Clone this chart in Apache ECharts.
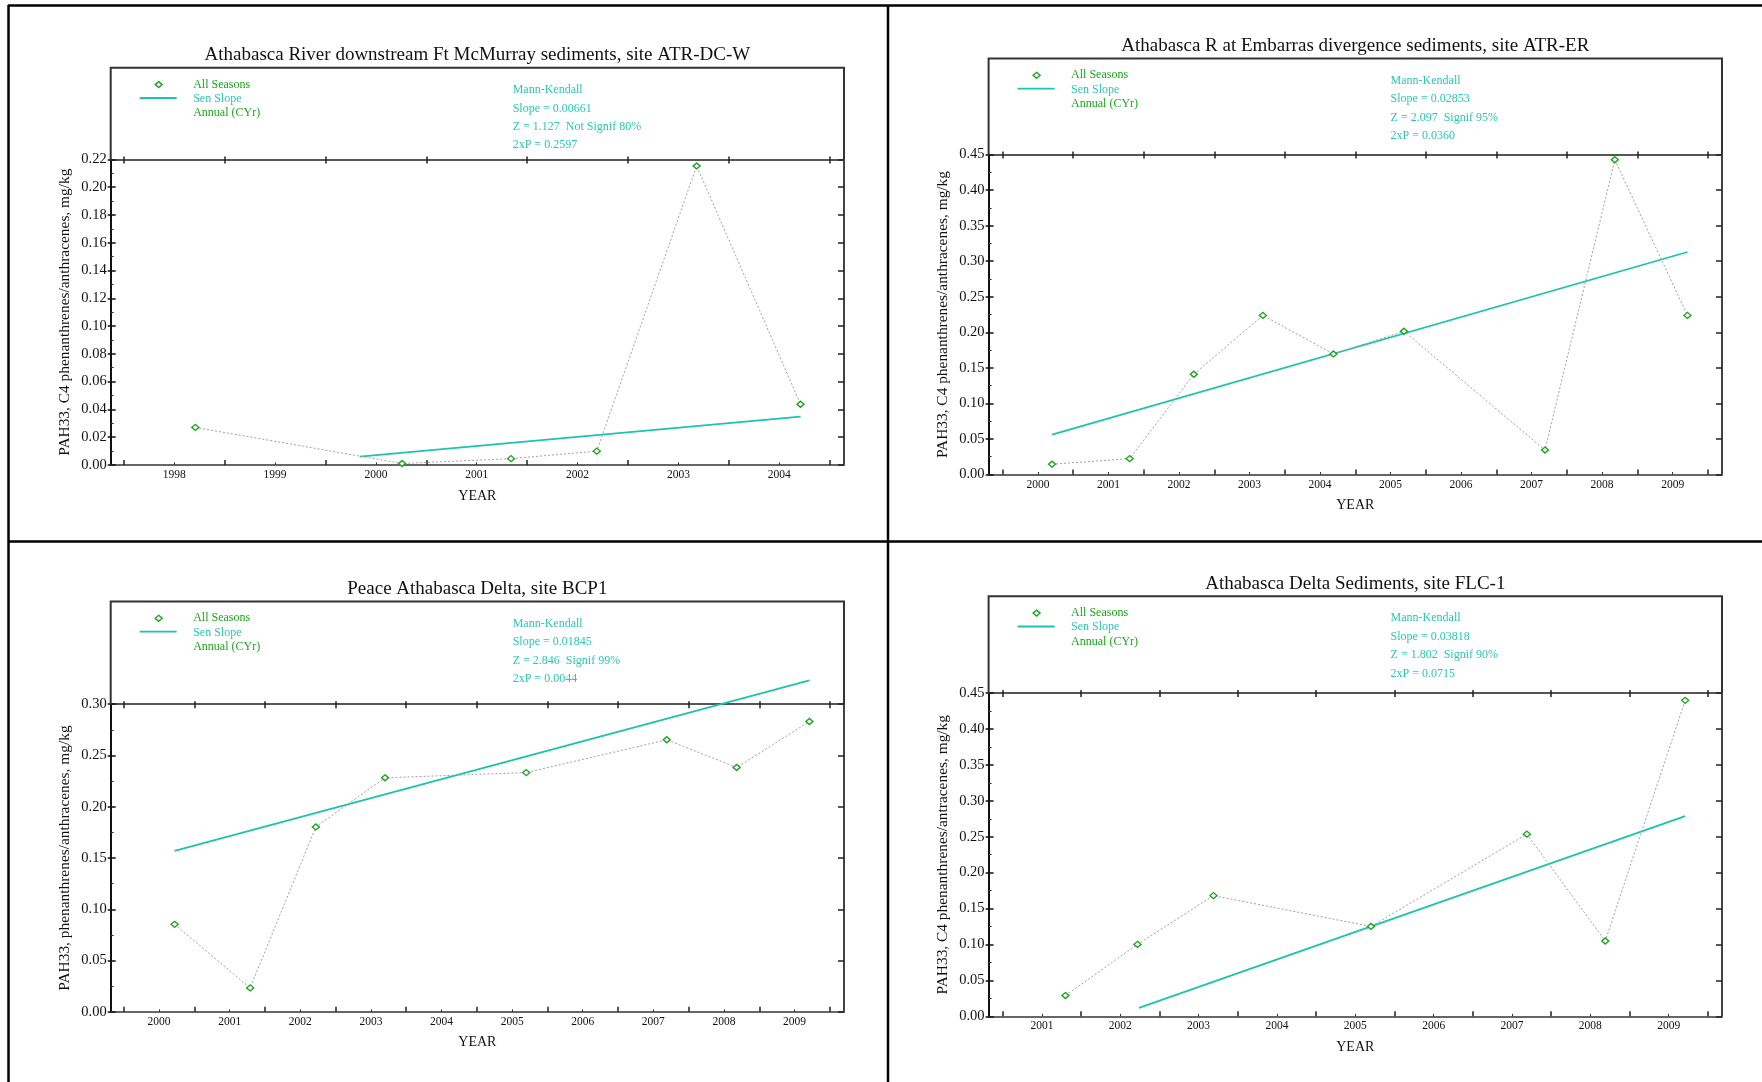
<!DOCTYPE html>
<html><head><meta charset="utf-8">
<script src="https://cdn.jsdelivr.net/npm/echarts@6/dist/echarts.min.js"></script>
<style>html,body{margin:0;padding:0;background:#fff}#c{width:1762px;height:1082px}</style>
</head><body><div id="c"></div>
<script>
// ---------------- data ----------------
const titles = [
  'Athabasca River downstream Ft McMurray sediments, site ATR-DC-W',
  'Athabasca R at Embarras divergence sediments, site ATR-ER',
  'Peace Athabasca Delta, site BCP1',
  'Athabasca Delta Sediments, site FLC-1'
];
const yAxisNames = [
  'PAH33, C4 phenanthrenes/anthracenes, mg/kg',
  'PAH33, C4 phenanthrenes/anthracenes, mg/kg',
  'PAH33, phenanthrenes/anthracenes, mg/kg',
  'PAH33, C4 phenanthrenes/antracenes, mg/kg'
];
const xAxisName = 'YEAR';
const legendLabels = ['All Seasons', 'Sen Slope', 'Annual (CYr)'];
const mkStats1 = ['Mann-Kendall', 'Slope = 0.00661', 'Z = 1.127  Not Signif 80%', '2xP = 0.2597'];
const mkStats2 = ['Mann-Kendall', 'Slope = 0.02853', 'Z = 2.097  Signif 95%', '2xP = 0.0360'];
const mkStats3 = ['Mann-Kendall', 'Slope = 0.01845', 'Z = 2.846  Signif 99%', '2xP = 0.0044'];
const mkStats4 = ['Mann-Kendall', 'Slope = 0.03818', 'Z = 1.802  Signif 90%', '2xP = 0.0715'];

// panel 1: ATR-DC-W
const dates1 = [1998.71, 2000.76, 2001.84, 2002.69, 2003.68, 2004.71];
const pah1   = [0.0270, 0.0010, 0.0045, 0.0099, 0.2153, 0.0437];
const senX1  = [2000.34, 2004.71];
const senY1  = [0.0060, 0.0347];
const yearTicks1  = [1998, 1999, 2000, 2001, 2002, 2003, 2004, 2005];
const yearLabels1 = [1998, 1999, 2000, 2001, 2002, 2003, 2004];
const yTicks1 = [0.00, 0.02, 0.04, 0.06, 0.08, 0.10, 0.12, 0.14, 0.16, 0.18, 0.20, 0.22];
const yMinor1 = [0.01, 0.03, 0.05, 0.07, 0.09, 0.11, 0.13, 0.15, 0.17, 0.19, 0.21];

// panel 2: ATR-ER
const dates2 = [2000.70, 2001.80, 2002.71, 2003.69, 2004.69, 2005.69, 2007.69, 2008.68, 2009.71];
const pah2   = [0.0145, 0.0223, 0.1410, 0.2238, 0.1696, 0.2015, 0.0344, 0.4428, 0.2238];
const senX2  = [2000.70, 2009.71];
const senY2  = [0.0562, 0.3130];
const yearTicks2  = [2000, 2001, 2002, 2003, 2004, 2005, 2006, 2007, 2008, 2009, 2010];
const yearLabels2 = [2000, 2001, 2002, 2003, 2004, 2005, 2006, 2007, 2008, 2009];
const yTicks2 = [0.00, 0.05, 0.10, 0.15, 0.20, 0.25, 0.30, 0.35, 0.40, 0.45];
const yMinor2 = [0.025, 0.075, 0.125, 0.175, 0.225, 0.275, 0.325, 0.375, 0.425];

// panel 3: BCP1
const dates3 = [2000.72, 2001.79, 2002.72, 2003.70, 2005.70, 2007.69, 2008.68, 2009.71];
const pah3   = [0.0853, 0.0233, 0.1803, 0.2282, 0.2333, 0.2653, 0.2383, 0.2831];
const senX3  = [2000.72, 2009.71];
const senY3  = [0.1570, 0.3233];
const yearTicks3  = [2000, 2001, 2002, 2003, 2004, 2005, 2006, 2007, 2008, 2009, 2010];
const yearLabels3 = [2000, 2001, 2002, 2003, 2004, 2005, 2006, 2007, 2008, 2009];
const yTicks3 = [0.00, 0.05, 0.10, 0.15, 0.20, 0.25, 0.30];
const yMinor3 = [0.025, 0.075, 0.125, 0.175, 0.225, 0.275];

// panel 4: FLC-1
const dates4 = [2001.80, 2002.72, 2003.69, 2005.70, 2007.69, 2008.69, 2009.71];
const pah4   = [0.0289, 0.1001, 0.1680, 0.1251, 0.2536, 0.1049, 0.4399];
const senX4  = [2002.74, 2009.71];
const senY4  = [0.0116, 0.2787];
const yearTicks4  = [2001, 2002, 2003, 2004, 2005, 2006, 2007, 2008, 2009, 2010];
const yearLabels4 = [2001, 2002, 2003, 2004, 2005, 2006, 2007, 2008, 2009];
const yTicks4 = [0.00, 0.05, 0.10, 0.15, 0.20, 0.25, 0.30, 0.35, 0.40, 0.45];
const yMinor4 = [0.025, 0.075, 0.125, 0.175, 0.225, 0.275, 0.325, 0.375, 0.425];

// ---------------- layout / style ----------------
const FONT = '"Liberation Serif", "Times New Roman", Times, serif';
const GREEN = '#1ea51e';
const TURQ = '#1cc2b2';
const TURQ_TEXT = '#2cc6b6';

const layout = [
  {x: 110.7, w: 733.3, boxTop: 67.8,  axTop: 159.4, axBot: 464.9,  xMin: 1997.871, xMax: 2005.141},
  {x: 988.6, w: 733.4, boxTop: 58.5,  axTop: 154.6, axBot: 474.5,  xMin: 1999.80,  xMax: 2010.20},
  {x: 110.7, w: 733.3, boxTop: 601.5, axTop: 704.2, axBot: 1011.8, xMin: 1999.815, xMax: 2010.20},
  {x: 988.6, w: 733.4, boxTop: 596.3, axTop: 693.1, axBot: 1016.3, xMin: 2000.82,  xMax: 2010.18}
];

const panels = [
  {dates: dates1, vals: pah1, senX: senX1, senY: senY1, yt: yearTicks1, yl: yearLabels1, vt: yTicks1, vm: yMinor1, mk: mkStats1},
  {dates: dates2, vals: pah2, senX: senX2, senY: senY2, yt: yearTicks2, yl: yearLabels2, vt: yTicks2, vm: yMinor2, mk: mkStats2},
  {dates: dates3, vals: pah3, senX: senX3, senY: senY3, yt: yearTicks3, yl: yearLabels3, vt: yTicks3, vm: yMinor3, mk: mkStats3},
  {dates: dates4, vals: pah4, senX: senX4, senY: senY4, yt: yearTicks4, yl: yearLabels4, vt: yTicks4, vm: yMinor4, mk: mkStats4}
];

const grid = [], xAxis = [], yAxis = [], series = [], graphic = [];

// outer frame
const frameLine = (x1, y1, x2, y2) => ({type: 'line', silent: true, z: 0,
  shape: {x1, y1, x2, y2}, style: {stroke: '#000', lineWidth: 2.5}});
graphic.push(frameLine(8, 5.5, 1762, 5.5));
graphic.push(frameLine(8.5, 5, 8.5, 1082));
graphic.push(frameLine(888, 5, 888, 1082));
graphic.push(frameLine(8, 541.5, 1762, 541.5));

panels.forEach((p, i) => {
  const L = layout[i];
  const yMax = p.vt[p.vt.length - 1];
  grid.push({left: L.x, top: L.axTop, width: L.w, height: L.axBot - L.axTop,
    containLabel: false, outerBoundsMode: 'none', show: false});

  const xi = xAxis.length;
  // main bottom axis
  xAxis.push({gridIndex: i, type: 'value', min: L.xMin, max: L.xMax, position: 'bottom',
    name: xAxisName, nameLocation: 'middle', nameGap: 24,
    nameTextStyle: {fontFamily: FONT, fontSize: 14, color: '#111'},
    axisLine: {show: true, onZero: false, lineStyle: {color: '#666', width: 2}},
    axisTick: {show: true, customValues: p.yt, inside: true, length: 5, lineStyle: {color: '#222', width: 1.5}},
    axisLabel: {show: true, customValues: p.yl.map(y => y + 0.5), formatter: v => String(Math.floor(v + 1e-6)),
      fontFamily: FONT, fontSize: 11.5, color: '#111', margin: 4},
    splitLine: {show: false}});
  // mid-year small ticks
  xAxis.push({gridIndex: i, type: 'value', min: L.xMin, max: L.xMax, position: 'bottom',
    axisLine: {show: false, onZero: false},
    axisTick: {show: true, customValues: p.yl.map(y => y + 0.5), inside: true, length: 2.5, lineStyle: {color: '#333', width: 1}},
    axisLabel: {show: false}, splitLine: {show: false}});
  // top axis line at y max
  xAxis.push({gridIndex: i, type: 'value', min: L.xMin, max: L.xMax, position: 'top',
    axisLine: {show: true, onZero: false, lineStyle: {color: '#555', width: 2}},
    axisTick: {show: true, customValues: p.yt, inside: true, length: 4, lineStyle: {color: '#222', width: 1.5}},
    axisLabel: {show: false}, splitLine: {show: false}});
  xAxis.push({gridIndex: i, type: 'value', min: L.xMin, max: L.xMax, position: 'top',
    axisLine: {show: false, onZero: false},
    axisTick: {show: true, customValues: p.yt, inside: false, length: 3, lineStyle: {color: '#222', width: 1.5}},
    axisLabel: {show: false}, splitLine: {show: false}});

  const yi = yAxis.length;
  yAxis.push({gridIndex: i, type: 'value', min: 0, max: yMax, position: 'left',
    name: yAxisNames[i], nameLocation: 'middle', nameGap: 38.5, nameRotate: 90,
    nameTextStyle: {fontFamily: FONT, fontSize: 15.4, color: '#111'},
    axisLine: {show: true, onZero: false, lineStyle: {color: '#111', width: 2}},
    axisTick: {show: true, customValues: p.vt, inside: false, length: 3, lineStyle: {color: '#111', width: 1.5}},
    axisLabel: {show: true, customValues: p.vt, formatter: v => v.toFixed(2),
      fontFamily: FONT, fontSize: 14.5, color: '#111', margin: 4},
    splitLine: {show: false}});
  yAxis.push({gridIndex: i, type: 'value', min: 0, max: yMax, position: 'left',
    axisLine: {show: false, onZero: false},
    axisTick: {show: true, customValues: p.vt, inside: true, length: 5, lineStyle: {color: '#111', width: 1.5}},
    axisLabel: {show: false}, splitLine: {show: false}});
  yAxis.push({gridIndex: i, type: 'value', min: 0, max: yMax, position: 'left',
    axisLine: {show: false, onZero: false},
    axisTick: {show: true, customValues: p.vm, inside: true, length: 3, lineStyle: {color: '#333', width: 1}},
    axisLabel: {show: false}, splitLine: {show: false}});
  yAxis.push({gridIndex: i, type: 'value', min: 0, max: yMax, position: 'right',
    axisLine: {show: true, onZero: false, lineStyle: {color: '#444', width: 2}},
    axisTick: {show: true, customValues: p.vt, inside: true, length: 6, lineStyle: {color: '#222', width: 1.5}},
    axisLabel: {show: false}, splitLine: {show: false}});

  series.push({type: 'line', name: 'Sen Slope ' + i, xAxisIndex: xi, yAxisIndex: yi,
    data: p.senX.map((x, k) => [x, p.senY[k]]), symbol: 'none', clip: false, z: 3,
    lineStyle: {color: TURQ, width: 1.8}, silent: true, animation: false});
  series.push({type: 'line', name: 'All Seasons ' + i, xAxisIndex: xi, yAxisIndex: yi,
    data: p.dates.map((d, k) => [d, p.vals[k]]), symbol: 'diamond', symbolSize: [7, 6], z: 4,
    lineStyle: {color: '#a0a0a0', width: 1, type: [2, 2]},
    itemStyle: {color: '#fff', borderColor: GREEN, borderWidth: 1.4}, animation: false});

  // box above axis region
  const bx = L.x, bw = L.w;
  graphic.push({type: 'polyline', silent: true, z: 1,
    shape: {points: [[bx, L.axTop], [bx, L.boxTop], [bx + bw, L.boxTop], [bx + bw, L.axTop]]},
    style: {stroke: '#333', lineWidth: 2, fill: null}});

  // title
  graphic.push({type: 'text', silent: true, z: 5, x: bx + bw / 2, y: L.boxTop - 12.6,
    style: {text: titles[i], fontFamily: FONT, fontSize: 19, fill: '#111',
      textAlign: 'center', align: 'center', textVerticalAlign: 'middle', verticalAlign: 'middle'}});

  // legend
  const lx = bx + 48, ly = L.boxTop + 16.8;
  graphic.push({type: 'polygon', silent: true, z: 5,
    shape: {points: [[lx, ly - 3], [lx + 3.5, ly], [lx, ly + 3], [lx - 3.5, ly]]},
    style: {fill: '#fff', stroke: GREEN, lineWidth: 1.4}});
  graphic.push({type: 'line', silent: true, z: 5,
    shape: {x1: bx + 29, y1: L.boxTop + 30.2, x2: bx + 66, y2: L.boxTop + 30.2},
    style: {stroke: TURQ, lineWidth: 1.8}});
  const legColors = [GREEN, TURQ_TEXT, GREEN];
  const legY = [16.8, 31.0, 45.4];
  legendLabels.forEach((t, k) => {
    graphic.push({type: 'text', silent: true, z: 5, x: bx + 82.5, y: L.boxTop + legY[k],
      style: {text: t, fontFamily: FONT, fontSize: 12, fill: legColors[k],
        textAlign: 'left', align: 'left', textVerticalAlign: 'middle', verticalAlign: 'middle'}});
  });
  // Mann-Kendall block
  const mkY = [22.0, 40.6, 59.0, 77.3];
  p.mk.forEach((t, k) => {
    graphic.push({type: 'text', silent: true, z: 5, x: bx + 402, y: L.boxTop + mkY[k],
      style: {text: t, fontFamily: FONT, fontSize: 12, fill: TURQ_TEXT,
        textAlign: 'left', align: 'left', textVerticalAlign: 'middle', verticalAlign: 'middle'}});
  });
});

const chart = echarts.init(document.getElementById('c'), null, {renderer: 'canvas', width: 1762, height: 1082});
chart.setOption({
  animation: false,
  backgroundColor: '#fff',
  grid, xAxis, yAxis, series, graphic
});
</script>
</body></html>
